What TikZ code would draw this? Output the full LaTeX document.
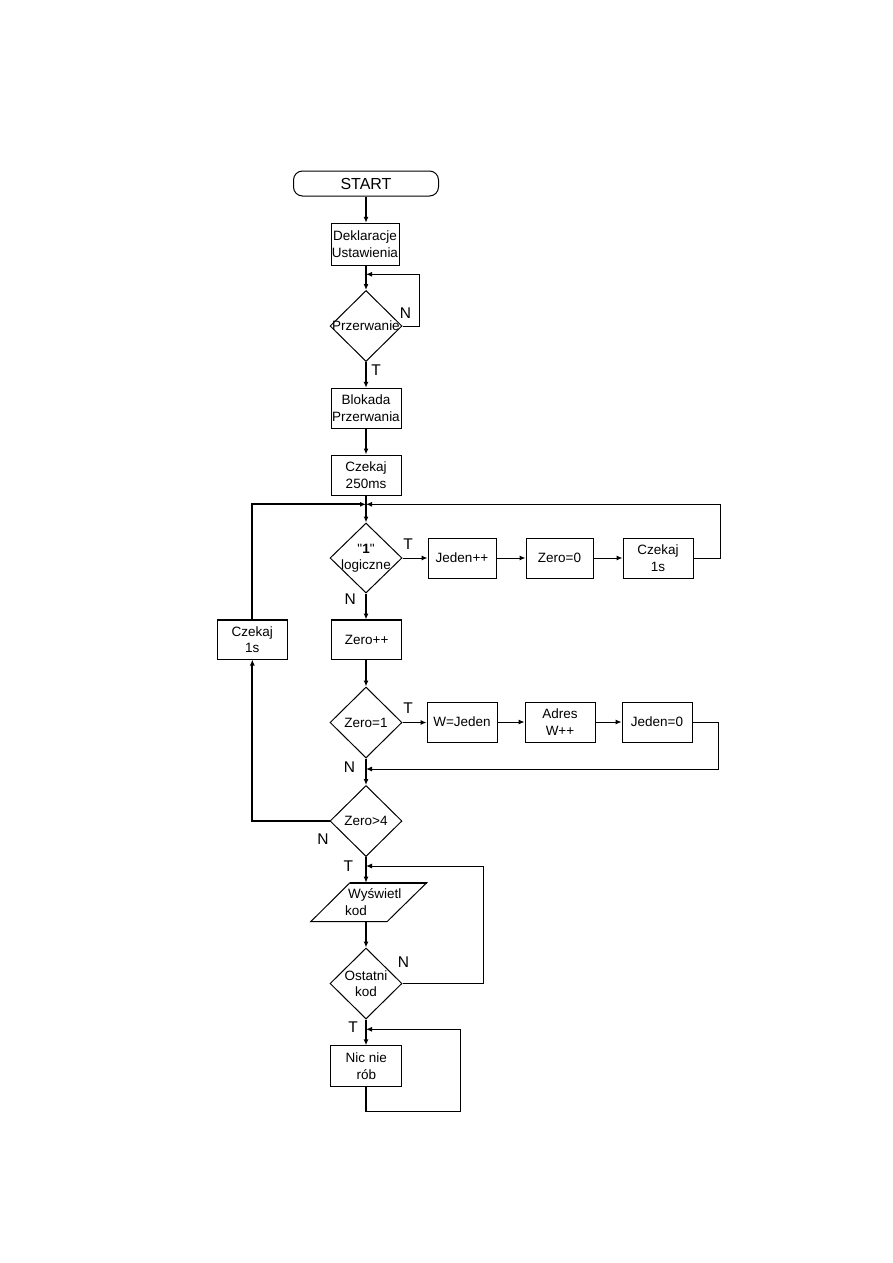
\documentclass[tikz,border=0pt]{standalone}
\usepackage{fontspec}
\setmainfont{Liberation Sans}[Ligatures=TeXOff]
\usetikzlibrary{shapes.geometric,arrows.meta}
\begin{document}
\begin{tikzpicture}[x=1pt,y=-1pt,
  box/.style={draw,line width=1pt,minimum width=70pt,minimum height=40pt,inner sep=0pt,align=center,font=\fontsize{13.5}{16.5}\selectfont},
  dia/.style={draw,diamond,line width=1pt,minimum width=72pt,minimum height=71pt,inner sep=0pt},
  txt/.style={align=center,font=\fontsize{13.5}{16.5}\selectfont,inner sep=0pt},
  lbl/.style={font=\fontsize{15.5}{15.5}\selectfont,inner sep=0pt},
  tip/.tip={Latex[length=6pt,width=5pt]},
  mainflow/.style={line width=2pt,-tip},
  sideflow/.style={line width=1pt,-tip},
]
\useasboundingbox (0,0) rectangle (893,1263);

% nodes
\node[draw,line width=1pt,rounded corners=9pt,minimum width=145pt,minimum height=25pt,inner sep=0pt,font=\fontsize{16}{16}\selectfont] (start) at (366,183.5) {START};
\node[box,minimum width=68pt,minimum height=42pt] (dekl) at (365,244.3) {Deklaracje\\Ustawienia};
\node[dia] (d1) at (366,326) {};
\node[txt] at (d1) {Przerwanie};
\node[box] (blok) at (366,408.3) {Blokada\\Przerwania};
\node[box] (wait1) at (366,475) {Czekaj\\250ms};
\node[dia,minimum height=70pt] (d2) at (366,558) {};
\node[txt] at (d2) {"\textbf{1}"\\logiczne};
\node[box,minimum width=68pt] (jed) at (462,558) {Jeden++};
\node[box,minimum width=67pt] (zero0) at (559.5,558) {Zero=0};
\node[box] (cz1) at (658,558) {Czekaj\\1s};
\node[box,minimum height=39pt] (zpp) at (366.7,639.5) {Zero++};
\node[box,minimum height=39pt] (cz2) at (252.3,639.5) {Czekaj\\1s};
\node[dia] (d3) at (366,722.5) {};
\node[txt] at (d3) {Zero=1};
\node[box] (wj) at (462,722) {W=Jeden};
\node[box] (adr) at (560,722) {Adres\\W++};
\node[box] (j0) at (657,722) {Jeden=0};
\node[dia] (d4) at (366,821) {};
\node[txt] at (d4) {Zero>4};
% parallelogram (Wyswietl kod)
\coordinate (wtl) at (350,882.7);
\coordinate (wtr) at (426.7,882.7);
\coordinate (wbr) at (387,921.7);
\coordinate (wbl) at (310.7,921.7);
\draw[line width=1pt] (wtl) -- (wtr) -- (wbr) -- (wbl) -- cycle;
\draw[line width=2pt] (wtl) -- (wtr);
\node[txt,align=left,anchor=west] (wys) at (345,902.2) {\hspace*{3pt}Wyświetl\\kod};
\node[dia] (d5) at (366,983.5) {};
\node[txt] at (d5) {Ostatni\\kod};
\node[box,minimum width=71pt,minimum height=41pt] (nic) at (366.3,1066.3) {Nic nie\\rób};

% thick top edges
\draw[line width=2pt] (cz2.north west) -- (cz2.north east);
\draw[line width=1.6pt] (zpp.north west) -- (zpp.north east);

% junctions
\coordinate (j1) at (366,274.3);
\coordinate (j2) at (366,504.3);
\coordinate (j3) at (366,769);
\coordinate (j4) at (366,866);
\coordinate (j5) at (366,1029.3);
\coordinate (b1) at (366,1111.7);
\coordinate (wtop) at (366,882.7);
\coordinate (wbot) at (366,921.7);

% connectors
\draw[mainflow] (start.south) -- (start.south |- dekl.north);
\draw[mainflow] (dekl.south -| d1.north) -- (d1.north);
\draw[sideflow] (d1.east) -- ++(17.3,0) |- (j1);
\draw[mainflow] (d1.south) -- (blok.north);
\draw[mainflow] (blok.south) -- (wait1.north);
\draw[mainflow] (wait1.south) -- (d2.north);
\draw[sideflow] (d2.east) -- (jed.west);
\draw[sideflow] (jed.east) -- (zero0.west);
\draw[sideflow] (zero0.east) -- (cz1.west);
\draw[sideflow] (cz1.east) -- ++(27,0) |- (j2);
\draw[mainflow] (d2.south) -- (d2.south |- zpp.north);
\draw[mainflow] (zpp.south -| d3.north) -- (d3.north);
\draw[sideflow] (d3.east) -- (d3.east -| wj.west);
\draw[sideflow] (wj.east) -- (adr.west);
\draw[sideflow] (adr.east) -- (j0.west);
\draw[sideflow] (j0.east) -- ++(26,0) |- (j3);
\draw[mainflow] (d3.south) -- (d4.north);
\draw[mainflow] (d4.west) -| (cz2.south);
\draw[mainflow] (cz2.north) |- (j2);
\draw[mainflow] (d4.south) -- (wtop);
\draw[mainflow] (wbot) -- (d5.north);
\draw[sideflow] (d5.east) -- ++(81,0) |- (j4);
\draw[mainflow] (d5.south) -- (d5.south |- nic.north);
\draw[line width=2pt] (nic.south -| b1) -- (b1);
\draw[sideflow] (b1) -- ++(94.7,0) |- (j5);

% labels
\node[lbl] (l1) at (405.5,313.5) {N};
\node[lbl] (l2) at (376,370) {T};
\node[lbl] (l3) at (408,544.5) {T};
\node[lbl] (l4) at (350.3,599.5) {N};
\node[lbl] (l5) at (408,708) {T};
\node[lbl] (l6) at (349.5,767) {N};
\node[lbl] (l7) at (323,839) {N};
\node[lbl] (l8) at (348.3,866) {T};
\node[lbl] (l9) at (403.5,962.5) {N};
\node[lbl] (l10) at (353,1027) {T};
\end{tikzpicture}
\end{document}
